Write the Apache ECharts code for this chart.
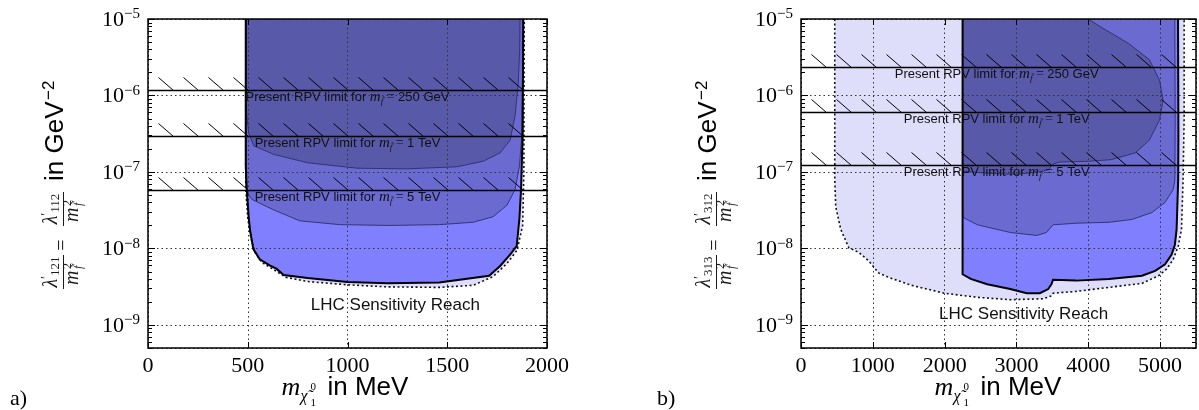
<!DOCTYPE html>
<html><head><meta charset="utf-8">
<script src="https://cdn.jsdelivr.net/npm/echarts@6/dist/echarts.min.js"></script>
<style>html,body{margin:0;padding:0;background:#fff}#c{width:1199px;height:410px}</style>
</head><body><div id="c"></div>
<script>
// ---------------- data (x in MeV, y in GeV^-2) ----------------
const xTicksA = [0, 500, 1000, 1500, 2000];
const xTicksB = [0, 1000, 2000, 3000, 4000, 5000];
const yDecades = [1e-9, 1e-8, 1e-7, 1e-6, 1e-5];

// panel a) lambda'_121 = lambda'_112
const reachA = [[490,1e-5],[490,6e-8],[500,2.5e-8],[515,1.4e-8],[535,9e-9],[570,6.6e-9],[640,5.1e-9],[690,4.2e-9],[800,3.7e-9],[1000,3.35e-9],[1200,3.15e-9],[1460,3.1e-9],[1630,3.3e-9],[1730,4.3e-9],[1800,6.4e-9],[1850,9.5e-9],[1878,2e-8],[1884,1e-7],[1886,1e-5]];
const lhcA = [[490,1e-5],[490,1.2e-7],[495,5.9e-8],[505,2.5e-8],[512,1.7e-8],[528,9.8e-9],[560,7.2e-9],[610,6e-9],[645,5.4e-9],[680,4.5e-9],[800,4.1e-9],[1000,3.65e-9],[1200,3.5e-9],[1460,3.6e-9],[1710,4.4e-9],[1765,5.9e-9],[1815,8.3e-9],[1848,1.07e-8],[1862,2.5e-8],[1870,6e-8],[1878,3e-7],[1881,1e-5]];
const midA = [[490,1e-5],[490,7e-8],[505,5e-8],[520,4.4e-8],[560,3.9e-8],[630,3.2e-8],[760,2.3e-8],[960,2.05e-8],[1210,2e-8],[1460,2.05e-8],[1630,2.2e-8],[1730,2.6e-8],[1800,3.7e-8],[1840,5.9e-8],[1862,1.2e-7],[1872,2.6e-7],[1877,1.5e-6],[1878,1e-5]];
const darkA = [[490,1e-5],[490,9e-7],[495,5.5e-7],[505,3.2e-7],[530,2.2e-7],[630,1.7e-7],[800,1.32e-7],[1050,1.12e-7],[1300,1.1e-7],[1550,1.17e-7],[1680,1.38e-7],[1765,1.78e-7],[1815,2.6e-7],[1840,5.4e-7],[1856,1.45e-6],[1863,4e-6],[1865,1e-5]];
const limitsA = [1.18e-6, 2.95e-7, 5.9e-8];

// panel b) lambda'_313 = lambda'_312
const reachB = [[470,1e-5],[470,7.9e-8],[484,3.5e-8],[553,1.78e-8],[667,1.02e-8],[805,8.9e-9],[942,6.9e-9],[1080,4.8e-9],[1217,4.2e-9],[1538,3.3e-9],[1997,2.6e-9],[2455,2.3e-9],[2913,2.14e-9],[3373,2.2e-9],[3487,2.4e-9],[3510,2.6e-9],[3831,2.75e-9],[4289,3.1e-9],[4748,3.5e-9],[4977,4.4e-9],[5092,5.4e-9],[5183,7.2e-9],[5252,1.07e-8],[5298,1.78e-8],[5320,7.9e-8],[5335,5e-7],[5335,1e-5]];
const lhcB = [[2250,1e-5],[2250,4.6e-9],[2363,4.0e-9],[2593,3.4e-9],[2913,2.95e-9],[3143,2.6e-9],[3326,2.6e-9],[3442,2.95e-9],[3487,3.4e-9],[3510,3.9e-9],[3831,3.8e-9],[4289,4.0e-9],[4748,4.4e-9],[4931,5.1e-9],[5069,6.2e-9],[5161,8.3e-9],[5206,1.12e-8],[5230,1.78e-8],[5252,7.9e-8],[5255,3e-7],[5250,1e-5]];
const midB = [[2250,1e-5],[2250,2.8e-8],[2272,2.5e-8],[2455,2.04e-8],[2913,1.62e-8],[3281,1.48e-8],[3418,1.62e-8],[3510,2.04e-8],[3831,2.14e-8],[4289,2.2e-8],[4611,2.4e-8],[4886,2.95e-8],[5069,4.0e-8],[5183,5.9e-8],[5206,7.9e-8],[5210,5e-7],[5205,1e-5]];
const darkB = [[2250,1e-5],[2250,1.02e-7],[2700,9.5e-8],[3000,9.3e-8],[3300,1e-7],[3450,1.07e-7],[3500,1.26e-7],[3600,1.35e-7],[4000,1.38e-7],[4319,1.45e-7],[4656,1.78e-7],[4849,2.6e-7],[4993,4.8e-7],[5041,8.7e-7],[4993,1.58e-6],[4849,2.95e-6],[4560,4.8e-6],[4200,7.6e-6],[4000,1e-5]];
const limitsB = [2.34e-6, 6.0e-7, 1.23e-7];

const limitNames = ['250 GeV', '1 TeV', '5 TeV'];
const lhcLabelA = [1240, 1.8e-9];
const lhcLabelB = [3100, 1.38e-9];

// ---------------- styles ----------------
const SANS = 'Liberation Sans';
const SERIF = 'Liberation Serif';
const COL = { reach: '#dedefa', lhc: '#8080ff', mid: '#6a6ad0', dark: '#5959aa', edge: '#2e2e6a' };
const Y_MIN = 5e-10, Y_MAX = 1e-5;
const LABEL_X_A = 1000, LABEL_X_B = 2725;

function fillSeries(points, gi, fill, z) {
  return { type: 'custom', xAxisIndex: gi, yAxisIndex: gi, z: z, silent: true, data: points,
    renderItem: function (params, api) {
      if (params.dataIndex !== 0) return null;
      return { type: 'polygon', shape: { points: points.map(p => api.coord(p)) },
        style: { fill: fill, stroke: null } };
    } };
}
function edgeSeries(points, gi, color, width, dash, z) {
  return { type: 'custom', xAxisIndex: gi, yAxisIndex: gi, z: z, silent: true, data: points,
    renderItem: function (params, api) {
      if (params.dataIndex !== 0) return null;
      return { type: 'polyline', shape: { points: points.map(p => api.coord(p)) },
        style: { fill: null, stroke: color, lineWidth: width, lineDash: dash || null } };
    } };
}
function limitSeries(vals, gi, labelX) {
  return { type: 'custom', xAxisIndex: gi, yAxisIndex: gi, z: 6, silent: true,
    data: vals.map(v => [labelX, v]),
    renderItem: function (params, api) {
      const cs = params.coordSys;
      const p = api.coord([api.value(0), api.value(1)]);
      const y = Math.round(p[1]) + 0.5;
      const ch = [{ type: 'line', shape: { x1: cs.x, y1: y, x2: cs.x + cs.width, y2: y }, style: { stroke: '#000', lineWidth: 1.5 } }];
      for (let hx = cs.x + 10.5; hx + 15 <= cs.x + cs.width; hx += 25) {
        ch.push({ type: 'line', shape: { x1: hx, y1: y - 13, x2: hx + 15, y2: y }, style: { stroke: '#000', lineWidth: 1 } });
      }
      ch.push({ type: 'text', x: p[0], y: y + 7, style: {
        text: '{t|Present RPV limit for }{m|m}{s|f\u0303}{e| = }{t|' + limitNames[params.dataIndex] + '}',
        align: 'center', verticalAlign: 'middle',
        rich: {
          t: { fontFamily: SANS, fontSize: 13, lineHeight: 18, fill: '#111' },
          m: { fontFamily: SERIF, fontStyle: 'italic', fontSize: 15, lineHeight: 18, fill: '#111' },
          s: { fontFamily: SERIF, fontStyle: 'italic', fontSize: 9, lineHeight: 18, verticalAlign: 'bottom', fill: '#111' },
          e: { fontFamily: SERIF, fontSize: 14, lineHeight: 18, fill: '#111' }
        } } });
      return { type: 'group', children: ch };
    } };
}
function textSeries(pos, gi, text) {
  return { type: 'custom', xAxisIndex: gi, yAxisIndex: gi, z: 7, silent: true, data: [pos],
    renderItem: function (params, api) {
      const p = api.coord([api.value(0), api.value(1)]);
      return { type: 'text', x: p[0], y: p[1], style: { text: text, fontFamily: SANS, fontSize: 17,
        fill: '#111', align: 'center', verticalAlign: 'middle' } };
    } };
}
function frameSeries(gi, xTicks) {
  return { type: 'custom', xAxisIndex: gi, yAxisIndex: gi, z: 8, silent: true, data: [[xTicks[0], Y_MAX]],
    renderItem: function (params, api) {
      const cs = params.coordSys;
      const ch = [{ type: 'rect', shape: { x: cs.x, y: cs.y, width: cs.width, height: cs.height },
        style: { fill: null, stroke: '#000', lineWidth: 1.5 } }];
      for (let e = -10; e <= -5; e++) {
        for (let k = 1; k <= 9; k++) {
          const v = k * Math.pow(10, e);
          if (v < Y_MIN * 0.999 || v > Y_MAX * 1.001) continue;
          const y = Math.round(api.coord([xTicks[0], v])[1]) + 0.5;
          const len = k === 1 ? 7 : 4;
          ch.push({ type: 'line', shape: { x1: cs.x, y1: y, x2: cs.x + len, y2: y }, style: { stroke: '#000', lineWidth: 1 } });
          ch.push({ type: 'line', shape: { x1: cs.x + cs.width, y1: y, x2: cs.x + cs.width - len, y2: y }, style: { stroke: '#000', lineWidth: 1 } });
        }
      }
      xTicks.forEach(t => {
        const x = Math.round(api.coord([t, Y_MAX])[0]) + 0.5;
        ch.push({ type: 'line', shape: { x1: x, y1: cs.y + cs.height, x2: x, y2: cs.y + cs.height - 6 }, style: { stroke: '#000', lineWidth: 1 } });
        ch.push({ type: 'line', shape: { x1: x, y1: cs.y, x2: x, y2: cs.y + 6 }, style: { stroke: '#000', lineWidth: 1 } });
      });
      return { type: 'group', children: ch };
    } };
}

function logLabel(v) {
  const l = Math.log10(v), e = Math.round(l);
  if (Math.abs(l - e) > 1e-6 || !yDecades.some(d => Math.abs(Math.log10(d) - e) < 1e-6)) return '';
  return '{b|10}{s|\u2212' + (-e) + '}';
}
function xAxisCfg(gi, max, step) {
  return { gridIndex: gi, type: 'value', min: 0, max: max, interval: step, z: 3,
    axisLine: { show: false }, axisTick: { show: false },
    splitLine: { show: true, lineStyle: { color: '#333', width: 1, type: [1.5, 3] } },
    axisLabel: { fontFamily: SERIF, fontSize: 22, color: '#000', margin: 7,
      formatter: v => (v % step === 0 ? String(v) : '') } };
}
function yAxisCfg(gi) {
  return { gridIndex: gi, type: 'log', logBase: 10, min: Y_MIN, max: Y_MAX, z: 3,
    axisLine: { show: false }, axisTick: { show: false }, minorTick: { show: false },
    splitLine: { show: true, lineStyle: { color: '#333', width: 1, type: [1.5, 3] } },
    axisLabel: { margin: 8, formatter: logLabel,
      rich: { b: { fontFamily: SERIF, fontSize: 22, lineHeight: 24, verticalAlign: 'bottom', color: '#000' },
              s: { fontFamily: SERIF, fontSize: 15, lineHeight: 24, verticalAlign: 'top', color: '#000' } } } };
}

function yTitle(ox, oy, s1, s2) {
  const ch = [];
  const ink = '#1a1a1a';
  function frac(cx, sub) {
    ch.push({ type: 'text', x: cx, y: -1, style: { text: '{g|\u03bb}{p|\u2032}{s|' + sub + '}', align: 'center', verticalAlign: 'bottom',
      rich: { g: { fontFamily: SERIF, fontStyle: 'italic', fontSize: 20, lineHeight: 22, verticalAlign: 'bottom', fill: ink },
              p: { fontFamily: SERIF, fontSize: 14, lineHeight: 22, verticalAlign: 'top', fill: ink },
              s: { fontFamily: SERIF, fontSize: 13, lineHeight: 22, verticalAlign: 'bottom', fill: ink } } } });
    ch.push({ type: 'line', shape: { x1: cx - 17, y1: 0.5, x2: cx + 17, y2: 0.5 }, style: { stroke: ink, lineWidth: 1 } });
    ch.push({ type: 'text', x: cx - 13, y: 0, style: { text: 'm', font: "italic 20px 'Liberation Serif'", align: 'left', verticalAlign: 'top', fill: ink } });
    ch.push({ type: 'text', x: cx + 3, y: -1, style: { text: '2', font: "12px 'Liberation Serif'", align: 'left', verticalAlign: 'top', fill: ink } });
    ch.push({ type: 'text', x: cx + 3, y: 10, style: { text: 'f\u0303', font: "italic 12px 'Liberation Serif'", align: 'left', verticalAlign: 'top', fill: ink } });
  }
  frac(73, s1);
  ch.push({ type: 'text', x: 100, y: 0, style: { text: '=', font: "20px 'Liberation Serif'", align: 'center', verticalAlign: 'middle', fill: ink } });
  frac(136, s2);
  ch.push({ type: 'text', x: 164, y: -7, style: { text: 'in GeV', font: "26px 'Liberation Sans'", align: 'left', verticalAlign: 'middle', fill: '#000' } });
  ch.push({ type: 'text', x: 245, y: -14, style: { text: '\u22122', font: "17px 'Liberation Sans'", align: 'left', verticalAlign: 'middle', fill: '#000' } });
  return { type: 'group', x: ox, y: oy, rotation: Math.PI / 2, children: ch };
}
function xTitle(cx) {
  return { type: 'group', x: cx, y: 0, children: [
    { type: 'text', x: -66, y: 388, style: { text: 'm', font: "italic 26px 'Liberation Serif'", align: 'left', verticalAlign: 'middle', fill: '#000' } },
    { type: 'text', x: -47, y: 397, style: { text: '\u03c7\u0303', font: "italic 16px 'Liberation Serif'", align: 'left', verticalAlign: 'middle', fill: '#000' } },
    { type: 'text', x: -37, y: 387, style: { text: '0', font: "11px 'Liberation Serif'", align: 'left', verticalAlign: 'middle', fill: '#000' } },
    { type: 'text', x: -37, y: 403, style: { text: '1', font: "11px 'Liberation Serif'", align: 'left', verticalAlign: 'middle', fill: '#000' } },
    { type: 'text', x: -20, y: 388, style: { text: 'in MeV', font: "26px 'Liberation Sans'", align: 'left', verticalAlign: 'middle', fill: '#000' } }
  ] };
}

function panelSeries(gi, reach, lhc, mid, dark, limits, labelX, lhcLabel, xTicks) {
  return [
    fillSeries(reach, gi, COL.reach, 1),
    fillSeries(lhc, gi, COL.lhc, 1),
    fillSeries(mid, gi, COL.mid, 1),
    fillSeries(dark, gi, COL.dark, 1),
    edgeSeries(dark, gi, COL.edge, 0.9, null, 4),
    edgeSeries(mid, gi, COL.edge, 0.9, null, 4),
    edgeSeries(reach, gi, '#111', 1.6, [2, 2.5], 5),
    edgeSeries(lhc, gi, '#000', 2, null, 5),
    limitSeries(limits, gi, labelX),
    textSeries(lhcLabel, gi, 'LHC Sensitivity Reach'),
    frameSeries(gi, xTicks)
  ];
}

const chart = echarts.init(document.getElementById('c'), null, { renderer: 'canvas' });
chart.setOption({
  animation: false,
  grid: [
    { left: 148, top: 19, width: 399, height: 329 },
    { left: 801, top: 19, width: 399, height: 329 }
  ],
  xAxis: [xAxisCfg(0, 2000, 500), xAxisCfg(1, 5500, 1000)],
  yAxis: [yAxisCfg(0), yAxisCfg(1)],
  series: [].concat(
    panelSeries(0, reachA, lhcA, midA, darkA, limitsA, LABEL_X_A, lhcLabelA, xTicksA),
    panelSeries(1, reachB, lhcB, midB, darkB, limitsB, LABEL_X_B, lhcLabelB, xTicksB)
  ),
  graphic: [
    yTitle(63, 345, '121', '112'),
    yTitle(716, 345, '313', '312'),
    xTitle(347.5),
    xTitle(1000.5),
    { type: 'text', x: 10, y: 399, style: { text: 'a)', font: "22px 'Liberation Serif'", verticalAlign: 'middle', fill: '#000' } },
    { type: 'text', x: 657, y: 399, style: { text: 'b)', font: "22px 'Liberation Serif'", verticalAlign: 'middle', fill: '#000' } }
  ]
});
</script>
</body></html>
